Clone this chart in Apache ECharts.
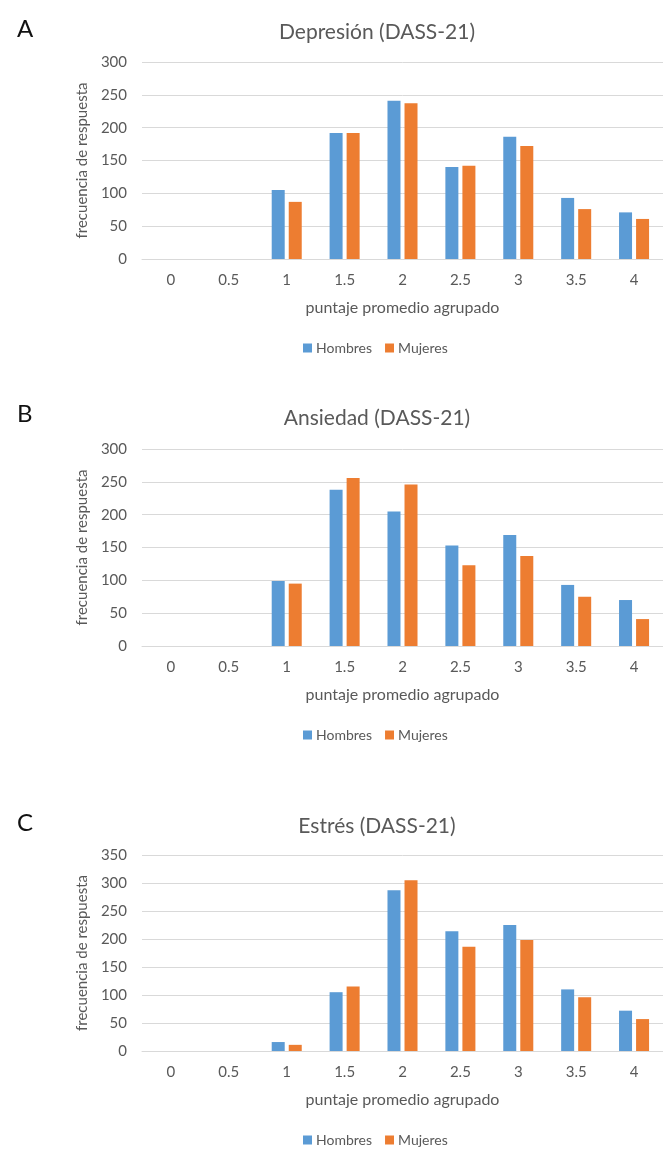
<!DOCTYPE html>
<html>
<head>
<meta charset="utf-8">
<script src="https://cdn.jsdelivr.net/npm/echarts@6/dist/echarts.min.js"></script>
<style>
html,body{margin:0;padding:0;background:#fff;}
#chart{width:663px;height:1153px;}
</style>
</head>
<body>
<div id="chart"></div>
<script>
const categories = ['0', '0.5', '1', '1.5', '2', '2.5', '3', '3.5', '4'];
const seriesNames = ['Hombres', 'Mujeres'];
const panelLetters = ['A', 'B', 'C'];
const panelTitles = ['Depresión (DASS-21)', 'Ansiedad (DASS-21)', 'Estrés (DASS-21)'];
const depresionHombres = [0, 0, 105, 192, 241, 140, 186, 93, 71];
const depresionMujeres = [0, 0, 87, 192, 237, 142, 172, 76, 61];
const ansiedadHombres = [0, 0, 99, 238, 205, 153, 169, 93, 70];
const ansiedadMujeres = [0, 0, 95, 256, 246, 123, 137, 75, 41];
const estresHombres = [0, 0, 16, 105, 287, 214, 225, 110, 72];
const estresMujeres = [0, 0, 11, 115, 305, 186, 198, 96, 57];
const yMax = [300, 300, 350];
const yInterval = 50;
const xAxisName = 'puntaje promedio agrupado';
const yAxisName = 'frecuencia de respuesta';

const panelData = [
  [depresionHombres, depresionMujeres],
  [ansiedadHombres, ansiedadMujeres],
  [estresHombres, estresMujeres]
];

// layout (pixels)
const gridTops = [62, 449, 855];
const gridHeights = [197, 197, 196];
const titleTops = [17, 403, 811];
const letterTops = [12, 397, 806];
const legendTops = [336, 723, 1128];

const FONT = 'Lato, "Open Sans", sans-serif';
const TXT = '#595959';
const BLUE = '#5B9BD5';
const ORANGE = '#ED7D31';
const GRID_LINE = '#D9D9D9';

const option = {
  backgroundColor: '#ffffff',
  animation: false,
  textStyle: { fontFamily: FONT },
  title: [],
  legend: [],
  grid: [],
  xAxis: [],
  yAxis: [],
  series: []
};

for (let i = 0; i < 3; i++) {
  option.title.push({
    text: panelLetters[i],
    left: 12,
    top: letterTops[i],
    textStyle: { fontFamily: FONT, fontSize: 24, fontWeight: 'normal', color: '#111111' }
  });
  option.title.push({
    text: panelTitles[i],
    left: 372,
    top: titleTops[i],
    textAlign: 'center',
    textStyle: { fontFamily: FONT, fontSize: 21, fontWeight: 'normal', color: TXT }
  });
  option.grid.push({ left: 142, width: 529, top: gridTops[i], height: gridHeights[i] });
  option.xAxis.push({
    type: 'category',
    gridIndex: i,
    data: categories,
    axisLine: { show: true, lineStyle: { color: GRID_LINE, width: 1 } },
    axisTick: { show: false },
    axisLabel: { color: TXT, fontSize: 15, margin: 14, fontFamily: FONT },
    name: xAxisName,
    nameLocation: 'middle',
    nameGap: 41,
    nameTextStyle: { color: TXT, fontSize: 16, fontFamily: FONT }
  });
  option.yAxis.push({
    type: 'value',
    gridIndex: i,
    min: 0,
    max: yMax[i],
    interval: yInterval,
    axisLine: { show: false },
    axisTick: { show: false },
    axisLabel: { color: TXT, fontSize: 15, margin: 15, fontFamily: FONT },
    splitLine: { lineStyle: { color: GRID_LINE, width: 1 } },
    name: yAxisName,
    nameLocation: 'middle',
    nameGap: 44,
    nameTextStyle: { color: TXT, fontSize: 15, fontFamily: FONT }
  });
  option.legend.push({
    left: 298,
    top: legendTops[i],
    itemWidth: 9,
    itemHeight: 9,
    itemGap: 13,
    icon: 'rect',
    textStyle: { color: TXT, fontSize: 14, fontFamily: FONT, padding: [0, 0, 0, -1] },
    data: seriesNames
  });
  const colors = [BLUE, ORANGE];
  for (let s = 0; s < 2; s++) {
    option.series.push({
      name: seriesNames[s],
      type: 'bar',
      xAxisIndex: i,
      yAxisIndex: i,
      data: panelData[i][s],
      barWidth: 13,
      barGap: '31%',
      itemStyle: { color: colors[s] }
    });
  }
}

const chart = echarts.init(document.getElementById('chart'), null, { renderer: 'canvas' });
chart.setOption(option);
</script>
</body>
</html>
